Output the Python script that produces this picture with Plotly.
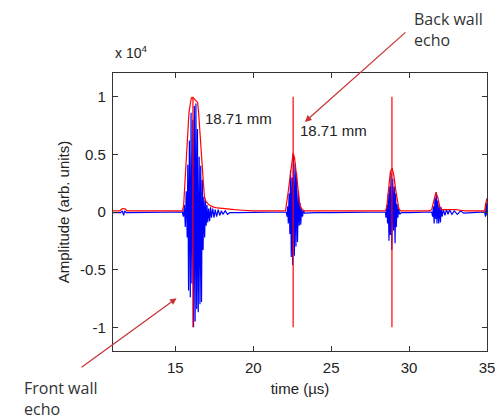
import plotly.graph_objects as go

# ---- data (amplitude in units of 1e4) ----
t_rf = [11.0, 11.5, 11.6, 11.68, 11.75, 11.85, 12.0, 13.0, 14.0, 15.0, 15.45,
        15.52, 15.58, 15.64, 15.70, 15.76, 15.80, 15.85, 15.90, 15.96, 16.01, 16.06,
        16.12, 16.17, 16.22, 16.27, 16.32, 16.37, 16.42, 16.47, 16.53, 16.58, 16.63,
        16.68, 16.73, 16.78, 16.83, 16.88, 16.93, 16.98, 17.03, 17.08, 17.14, 17.20,
        17.26, 17.32, 17.40, 17.48, 17.56, 17.65, 17.75, 17.85, 17.95, 18.05, 18.20,
        18.35, 18.5, 19.0, 20.0, 21.0, 22.05,
        22.12, 22.17, 22.21, 22.25, 22.30, 22.35, 22.39, 22.44, 22.49, 22.53, 22.58,
        22.64, 22.69, 22.74, 22.78, 22.84, 22.90, 22.95, 23.00, 23.05, 23.10, 23.16,
        23.22, 23.30, 24.0, 25.0, 26.0, 27.0, 28.0, 28.45,
        28.48, 28.52, 28.57, 28.62, 28.66, 28.71, 28.76, 28.80, 28.84, 28.89, 28.95,
        29.00, 29.05, 29.10, 29.14, 29.18, 29.23, 29.28, 29.33, 29.40, 29.5, 30.0,
        31.0, 31.45,
        31.51, 31.56, 31.61, 31.66, 31.71, 31.74, 31.79, 31.84, 31.90, 31.95, 32.01,
        32.06, 32.12, 32.2, 32.3, 32.4, 32.5, 32.6, 32.75, 32.9, 33.1, 33.3, 33.5,
        34.0, 34.5, 34.85, 34.90, 34.95, 35.0]
a_rf = [-0.005, -0.005, 0.01, -0.03, 0.01, -0.005, -0.005, -0.005, -0.005, -0.005, 0.0,
        -0.04, 0.06, -0.13, 0.18, -0.22, 0.41, -0.68, 0.62, -0.74, 0.86, -0.62,
        0.80, -1.00, 0.92, -0.95, 0.94, -0.84, 0.72, -0.87, 0.48, -0.80, 0.40,
        -0.78, 0.28, -0.33, 0.13, -0.22, 0.10, -0.12, 0.06, -0.09, 0.03, -0.08,
        0.04, -0.05, 0.03, -0.05, 0.02, -0.04, 0.02, -0.03, 0.01, -0.02, 0.01,
        -0.02, -0.005, -0.005, -0.005, -0.005, -0.005,
        0.00, -0.04, 0.05, -0.10, 0.16, -0.19, 0.36, -0.39, 0.30, -0.46, 0.50,
        -0.38, 0.42, -0.30, 0.34, -0.26, 0.18, -0.12, 0.08, -0.11, 0.03, -0.04,
        0.01, -0.01, -0.005, -0.005, -0.005, -0.005, -0.005, -0.005,
        0.00, -0.05, 0.06, -0.10, 0.16, -0.25, 0.22, -0.20, 0.34, -0.33, 0.29,
        -0.16, 0.22, -0.27, 0.16, -0.13, 0.07, -0.05, 0.03, -0.02, -0.005, -0.005,
        -0.005, 0.00,
        -0.04, 0.05, -0.10, 0.12, -0.06, 0.17, -0.10, 0.10, -0.10, 0.06, -0.09,
        0.04, -0.04, 0.02, -0.03, 0.02, -0.02, 0.02, -0.02, 0.01, -0.02, 0.01, -0.01,
        -0.005, -0.005, 0.00, -0.04, 0.08, -0.03]

t_env = [11.0, 11.45, 11.55, 11.65, 11.8, 11.9, 12.5, 13.5, 14.5, 15.45, 15.53,
         15.60, 15.70, 15.78, 15.87, 15.95, 16.03, 16.15, 16.28, 16.43, 16.50, 16.56,
         16.64, 16.72, 16.80, 16.87, 16.97, 17.18, 17.4, 17.7, 18.0, 18.4, 18.8,
         19.3, 20.0, 21.0, 22.07, 22.22, 22.35, 22.45, 22.56, 22.65, 22.78, 22.89,
         22.99, 23.14, 23.3, 24.0, 25.0, 26.0, 27.0, 28.0, 28.45, 28.52, 28.59,
         28.70, 28.80, 28.91, 29.02, 29.13, 29.23, 29.34, 29.45, 30.0, 31.0, 31.3,
         31.45, 31.57, 31.72, 31.83, 31.98, 32.1, 32.2, 32.4, 32.6, 32.8, 33.0,
         33.3, 33.6, 34.0, 34.5, 34.85, 34.90, 34.97, 35.0]
a_env = [0.01, 0.01, 0.025, 0.03, 0.025, 0.01, 0.01, 0.01, 0.01, 0.01, 0.05,
         0.22, 0.45, 0.60, 0.85, 0.93, 0.99, 0.99, 0.97, 0.95, 0.85, 0.72,
         0.51, 0.35, 0.25, 0.13, 0.09, 0.06, 0.045, 0.035, 0.03, 0.025, 0.02,
         0.015, 0.01, 0.01, 0.01, 0.15, 0.29, 0.43, 0.51, 0.47, 0.29, 0.15,
         0.06, 0.02, 0.01, 0.01, 0.01, 0.01, 0.01, 0.01, 0.01, 0.02, 0.07,
         0.22, 0.35, 0.38, 0.32, 0.20, 0.10, 0.03, 0.01, 0.01, 0.01, 0.01,
         0.02, 0.10, 0.17, 0.13, 0.04, 0.02, 0.02, 0.025, 0.02, 0.025, 0.02,
         0.015, 0.01, 0.01, 0.01, 0.01, 0.06, 0.12, 0.12]

# echo marker times (µs)
t_marks = [16.13, 22.56, 28.90]
mark_lo, mark_hi = -1.0, 1.0
dist_labels = ["18.71 mm", "18.71 mm"]
dist_label_pos = [(16.79, 0.81), (22.84, 0.71)]

x_ticks = [15, 20, 25, 30, 35]
y_ticks = [-1, -0.5, 0, 0.5, 1]
y_ticktext = ["-1", "-0.5", "0", "0.5", "1"]

# ---- figure ----
mx, my = [], []
for t in t_marks:
    mx += [t, t, None]
    my += [mark_lo, mark_hi, None]

fig = go.Figure()
fig.add_trace(go.Scatter(x=t_rf, y=a_rf, mode="lines",
                         line=dict(color="#0000FF", width=1.2), hoverinfo="skip"))
fig.add_trace(go.Scatter(x=t_env, y=a_env, mode="lines",
                         line=dict(color="#FF0000", width=1.2), hoverinfo="skip"))
fig.add_trace(go.Scatter(x=mx, y=my, mode="lines",
                         line=dict(color="#FF0000", width=1.2), hoverinfo="skip"))

font_main = "Liberation Sans"
font_note = "Open Sans"

anns = []
for txt, (tx, ty) in zip(dist_labels, dist_label_pos):
    anns.append(dict(x=tx, y=ty, xref="x", yref="y", text=txt, showarrow=False,
                     xanchor="left", yanchor="middle",
                     font=dict(family=font_main, size=15, color="#222")))
anns.append(dict(x=0.0, y=1.035, xref="x domain", yref="y domain", text="x 10<sup>4</sup>",
                 showarrow=False, xanchor="left", yanchor="bottom",
                 font=dict(family=font_main, size=14, color="#222")))
# arrows
anns.append(dict(x=0.513, y=0.824, xref="x domain", yref="y domain",
                 ax=0.786, ay=1.151, axref="x domain", ayref="y domain",
                 text="", showarrow=True, arrowhead=2, arrowsize=1.1, arrowwidth=1.2,
                 arrowcolor="#C83232"))
anns.append(dict(x=0.170, y=0.190, xref="x domain", yref="y domain",
                 ax=-0.088, ay=-0.062, axref="x domain", ayref="y domain",
                 text="", showarrow=True, arrowhead=2, arrowsize=1.1, arrowwidth=1.2,
                 arrowcolor="#C83232"))
anns.append(dict(x=0.80, y=1.158, xref="x domain", yref="y domain",
                 text="Back wall<br>echo", showarrow=False, xanchor="left", yanchor="middle",
                 align="left", font=dict(family=font_note, size=16, color="#333")))
anns.append(dict(x=-0.243, y=-0.172, xref="x domain", yref="y domain",
                 text="Front wall<br>echo", showarrow=False, xanchor="left", yanchor="middle",
                 align="left", font=dict(family=font_note, size=16, color="#333")))

fig.update_layout(
    width=495, height=418,
    margin=dict(l=113, r=8, t=73, b=67, autoexpand=False),
    paper_bgcolor="white", plot_bgcolor="white",
    showlegend=False,
    annotations=anns,
    font=dict(family=font_main, size=15, color="#222"),
)
fig.update_xaxes(range=[11, 35], tickvals=x_ticks, ticks="inside", ticklen=5,
                 tickcolor="#333", showline=True, linecolor="#333", linewidth=1.2,
                 mirror="ticks", showgrid=False, zeroline=False, automargin=False,
                 ticklabeloverflow="allow",
                 title=dict(text="time (µs)", standoff=8, font=dict(size=15)),
                 tickfont=dict(size=15), ticklabelstandoff=3)
fig.update_yaxes(range=[-1.205, 1.205], tickvals=y_ticks, ticktext=y_ticktext,
                 ticks="inside", ticklen=5, tickcolor="#333", showline=True,
                 linecolor="#333", linewidth=1.2, mirror="ticks", showgrid=False,
                 zeroline=False, automargin=False, ticklabeloverflow="allow",
                 title=dict(text="Amplitude (arb. units)", standoff=6, font=dict(size=15)),
                 tickfont=dict(size=15), ticklabelstandoff=3)

fig.write_html("out.html", config={"displayModeBar": False},
               post_script="document.body.style.margin='0';")
